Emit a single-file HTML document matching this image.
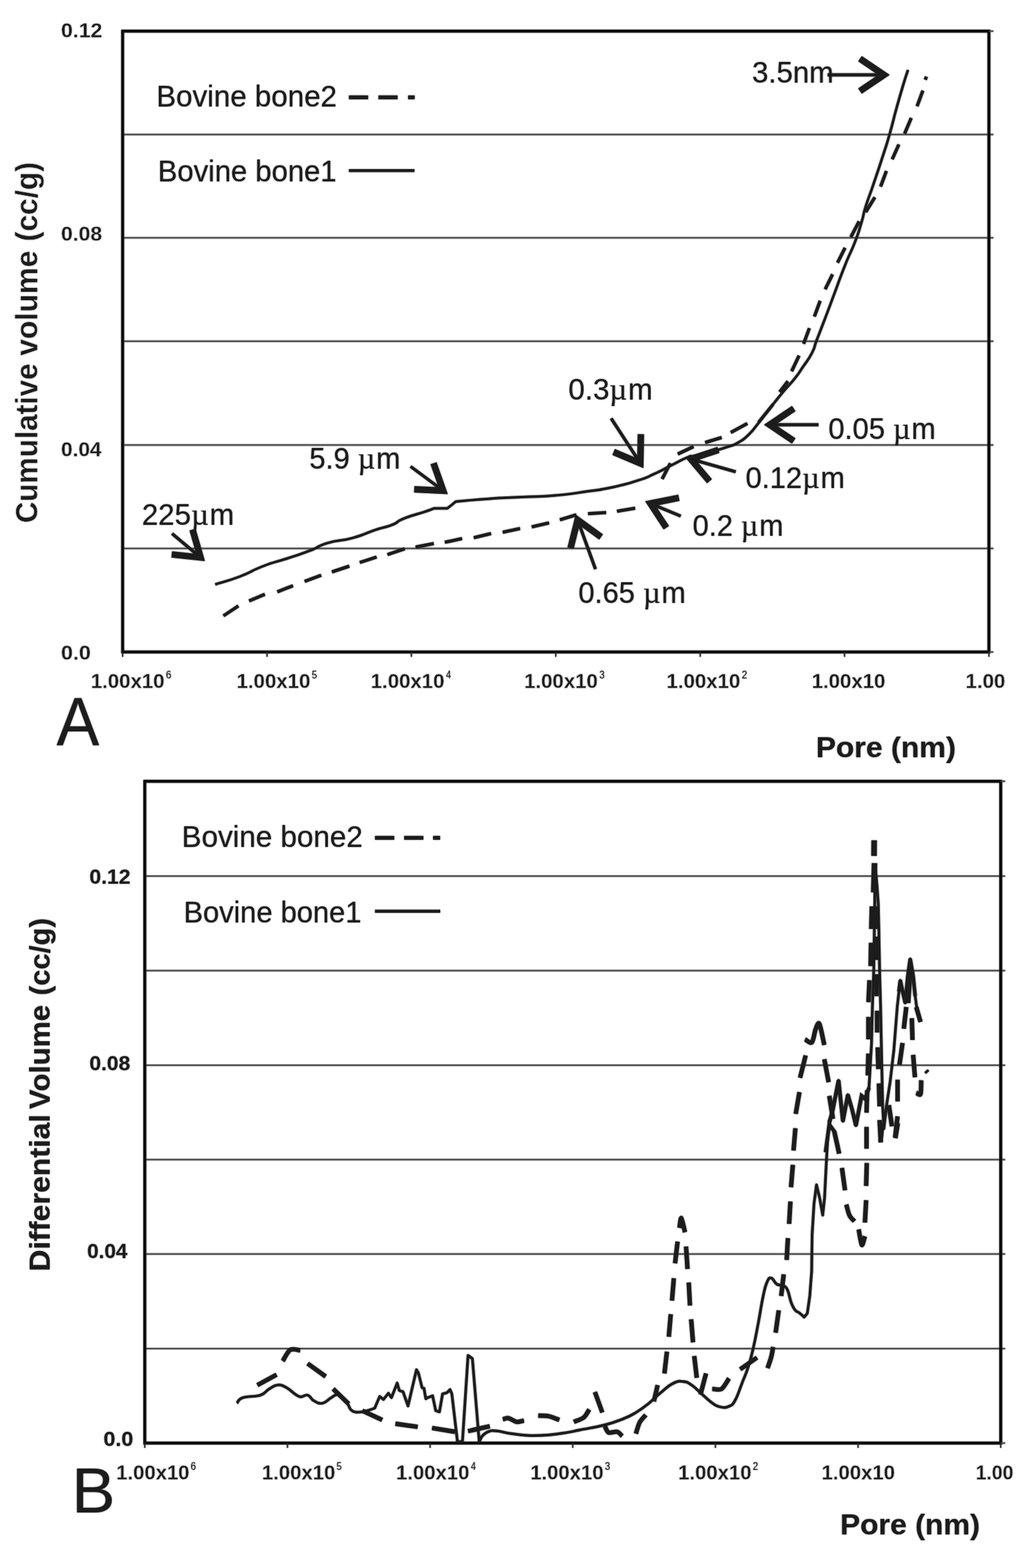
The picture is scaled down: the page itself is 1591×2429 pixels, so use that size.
<!DOCTYPE html>
<html lang="en"><head><meta charset="utf-8"><title>Pore size distribution of bovine bone</title>
<style>
html,body{margin:0;padding:0;background:#fff;}
body{width:1591px;height:2429px;overflow:hidden;}
svg{display:block;}
</style></head><body>
<svg width="1591" height="2429" viewBox="0 0 1591 2429">
<defs><filter id="soft" x="0" y="0" width="1591" height="2429" filterUnits="userSpaceOnUse" color-interpolation-filters="sRGB"><feGaussianBlur in="SourceGraphic" stdDeviation="0.85" result="b"/><feComponentTransfer in="b" result="h"><feFuncA type="linear" slope="0.7"/></feComponentTransfer><feMerge><feMergeNode in="h"/><feMergeNode in="SourceGraphic"/></feMerge></filter></defs>
<rect width="1591" height="2429" fill="#fff"/>
<g filter="url(#soft)">
<line x1="190" y1="208.3" x2="1539" y2="208.3" stroke="#474747" stroke-width="2.2" stroke-linecap="butt"/>
<line x1="190" y1="368.4" x2="1539" y2="368.4" stroke="#474747" stroke-width="2.2" stroke-linecap="butt"/>
<line x1="190" y1="528.6" x2="1539" y2="528.6" stroke="#474747" stroke-width="2.2" stroke-linecap="butt"/>
<line x1="190" y1="689.3" x2="1539" y2="689.3" stroke="#474747" stroke-width="2.2" stroke-linecap="butt"/>
<line x1="190" y1="849.6" x2="1539" y2="849.6" stroke="#474747" stroke-width="2.2" stroke-linecap="butt"/>
<rect x="190" y="48.2" width="1342" height="961.8" fill="none" stroke="#0c0c0c" stroke-width="4.5"/>
<line x1="1532" y1="48.2" x2="1539" y2="48.2" stroke="#474747" stroke-width="2.2" stroke-linecap="butt"/>
<line x1="1532" y1="1010" x2="1539" y2="1010" stroke="#474747" stroke-width="2.2" stroke-linecap="butt"/>
<line x1="190" y1="1010" x2="190" y2="1017.5" stroke="#2a2a2a" stroke-width="2.0" stroke-linecap="butt"/>
<line x1="413.7" y1="1010" x2="413.7" y2="1017.5" stroke="#2a2a2a" stroke-width="2.0" stroke-linecap="butt"/>
<line x1="637.3" y1="1010" x2="637.3" y2="1017.5" stroke="#2a2a2a" stroke-width="2.0" stroke-linecap="butt"/>
<line x1="861" y1="1010" x2="861" y2="1017.5" stroke="#2a2a2a" stroke-width="2.0" stroke-linecap="butt"/>
<line x1="1084.7" y1="1010" x2="1084.7" y2="1017.5" stroke="#2a2a2a" stroke-width="2.0" stroke-linecap="butt"/>
<line x1="1308.3" y1="1010" x2="1308.3" y2="1017.5" stroke="#2a2a2a" stroke-width="2.0" stroke-linecap="butt"/>
<line x1="1532" y1="1010" x2="1532" y2="1017.5" stroke="#2a2a2a" stroke-width="2.0" stroke-linecap="butt"/>
<text transform="translate(94.5 58) scale(1.0410 1.0000)" font-family="'Liberation Sans', sans-serif" font-size="31.6" text-anchor="start" fill="#1c1c1c" font-weight="bold" stroke="#fff" stroke-width="0.35">0.12</text>
<text transform="translate(94.5 373.3) scale(1.0354 1.0000)" font-family="'Liberation Sans', sans-serif" font-size="31.6" text-anchor="start" fill="#1c1c1c" font-weight="bold" stroke="#fff" stroke-width="0.35">0.08</text>
<text transform="translate(94.5 706.7) scale(1.0218 1.0000)" font-family="'Liberation Sans', sans-serif" font-size="31.6" text-anchor="start" fill="#1c1c1c" font-weight="bold" stroke="#fff" stroke-width="0.35">0.04</text>
<text transform="translate(94.5 1022.3) scale(1.0496 1.0000)" font-family="'Liberation Sans', sans-serif" font-size="31.6" text-anchor="start" fill="#1c1c1c" font-weight="bold" stroke="#fff" stroke-width="0.35">0.0</text>
<text transform="translate(140.7 1066.2)" font-family="'Liberation Sans', sans-serif" font-size="31.6" text-anchor="start" fill="#1c1c1c" font-weight="bold" stroke="#fff" stroke-width="0.35">1.00x10</text>
<text transform="translate(257 1050.8) scale(0.8903 1.0000)" font-family="'Liberation Sans', sans-serif" font-size="17" text-anchor="start" fill="#1c1c1c">6</text>
<text transform="translate(366.5 1066.2)" font-family="'Liberation Sans', sans-serif" font-size="31.6" text-anchor="start" fill="#1c1c1c" font-weight="bold" stroke="#fff" stroke-width="0.35">1.00x10</text>
<text transform="translate(483 1050.8) scale(0.8669 1.0000)" font-family="'Liberation Sans', sans-serif" font-size="17" text-anchor="start" fill="#1c1c1c">5</text>
<text transform="translate(574.3 1066.2)" font-family="'Liberation Sans', sans-serif" font-size="31.6" text-anchor="start" fill="#1c1c1c" font-weight="bold" stroke="#fff" stroke-width="0.35">1.00x10</text>
<text transform="translate(691.1 1050.8) scale(0.8154 1.0000)" font-family="'Liberation Sans', sans-serif" font-size="17" text-anchor="start" fill="#1c1c1c">4</text>
<text transform="translate(811.9 1066.2)" font-family="'Liberation Sans', sans-serif" font-size="31.6" text-anchor="start" fill="#1c1c1c" font-weight="bold" stroke="#fff" stroke-width="0.35">1.00x10</text>
<text transform="translate(928.4 1050.8) scale(0.8669 1.0000)" font-family="'Liberation Sans', sans-serif" font-size="17" text-anchor="start" fill="#1c1c1c">3</text>
<text transform="translate(1032.6 1066.2)" font-family="'Liberation Sans', sans-serif" font-size="31.6" text-anchor="start" fill="#1c1c1c" font-weight="bold" stroke="#fff" stroke-width="0.35">1.00x10</text>
<text transform="translate(1148.9 1050.8) scale(0.9050 1.0000)" font-family="'Liberation Sans', sans-serif" font-size="17" text-anchor="start" fill="#1c1c1c">2</text>
<text transform="translate(1257.4 1066.2)" font-family="'Liberation Sans', sans-serif" font-size="31.6" text-anchor="start" fill="#1c1c1c" font-weight="bold" stroke="#fff" stroke-width="0.35">1.00x10</text>
<text transform="translate(1495.8 1066.2) scale(1.0022 1.0000)" font-family="'Liberation Sans', sans-serif" font-size="31.6" text-anchor="start" fill="#1c1c1c" font-weight="bold" stroke="#fff" stroke-width="0.35">1.00</text>
<text transform="translate(1263.9 1173) scale(1.0335 1.0000)" font-family="'Liberation Sans', sans-serif" font-size="45" text-anchor="start" fill="#1c1c1c" font-weight="bold">Pore (nm)</text>
<text transform="translate(87.5 1154) scale(0.9849 1.0450)" font-family="'Liberation Sans', sans-serif" font-size="101" text-anchor="start" fill="#1c1c1c">A</text>
<text transform="translate(58.3 810.3) rotate(-90) scale(1.0199 1.0500)" font-family="'Liberation Sans', sans-serif" font-size="45" text-anchor="start" fill="#1c1c1c" font-weight="bold" stroke="#fff" stroke-width="0.45">Cumulative</text>
<text transform="translate(58.3 551.3) rotate(-90) scale(1.0362 1.0500)" font-family="'Liberation Sans', sans-serif" font-size="45" text-anchor="start" fill="#1c1c1c" font-weight="bold" stroke="#fff" stroke-width="0.45">volume</text>
<text transform="translate(58.3 373.9) rotate(-90) scale(1.0252 1.0500)" font-family="'Liberation Sans', sans-serif" font-size="45" text-anchor="start" fill="#1c1c1c" font-weight="bold" stroke="#fff" stroke-width="0.45">(cc/g)</text>
<text transform="translate(242.2 165.3) scale(0.9949 1.0000)" font-family="'Liberation Sans', sans-serif" font-size="46" text-anchor="start" fill="#1c1c1c">Bovine bone2</text>
<line x1="540.5" y1="150.8" x2="570.3" y2="150.8" stroke="#1c1c1c" stroke-width="6" stroke-linecap="butt"/>
<line x1="586.2" y1="150.8" x2="616" y2="150.8" stroke="#1c1c1c" stroke-width="6" stroke-linecap="butt"/>
<line x1="632.2" y1="150.8" x2="642.4" y2="150.8" stroke="#1c1c1c" stroke-width="6" stroke-linecap="butt"/>
<text transform="translate(244.6 280.6) scale(0.9843 1.0000)" font-family="'Liberation Sans', sans-serif" font-size="46" text-anchor="start" fill="#1c1c1c">Bovine bone1</text>
<line x1="540.5" y1="264.3" x2="642.1" y2="264.3" stroke="#1c1c1c" stroke-width="4.6" stroke-linecap="butt"/>
<path d="M333.4 905.3C344.9 901.6 349.5 901.5 371.8 893C394.1 884.5 386.2 885.2 407.8 877C429.4 868.8 422.2 872.6 443.7 865.5C465.2 858.4 460.4 860.5 479.6 853.2C498.8 845.9 487.8 847 507.8 841.1C527.8 835.2 524 839.5 546.3 833.4C568.6 827.2 563.7 826.8 582.2 820.6C600.7 814.5 594.8 818.1 607.9 812.9C621 807.6 610.5 809.2 625.9 803.1C641.3 797 645.4 797.1 659.2 792.4C673 787.7 672 787.5 672 787.5C672 787.5 693 787.5 693 787.5C693 787.5 700 782 700 782C700 782 706 777 706 777C706 777 726.3 774.8 757 772.7C787.7 770.6 777.5 771.7 808.3 770.1C839.1 768.5 828.8 770.2 859.6 767.5C890.4 764.8 884 764.9 910.9 761.1C937.8 757.3 926.3 759.7 949.4 754.7C972.5 749.7 968.7 750.5 987.9 744.4C1007.1 738.2 998.1 741.1 1013.5 734.2C1028.9 727.3 1023.8 729 1039.2 721.3C1054.6 713.6 1053.6 713.1 1064.9 708.5C1076.2 703.9 1065.7 708.7 1077 706C1088.3 703.3 1087.2 703.8 1102.6 699.6C1118 695.4 1116 696.1 1128.3 691.9C1140.6 687.7 1134.5 690.9 1143.7 685.5C1152.9 680.1 1149.9 682.9 1159.1 674C1168.3 665.1 1164.5 668.3 1174.5 656C1184.5 643.7 1180.9 647.5 1192.4 632.9C1204 618.3 1201.5 621.1 1213 607.2C1224.5 593.3 1221.7 598.2 1230.9 586.7C1240.1 575.2 1235.6 580.7 1243.7 568.7C1251.8 556.7 1251.3 559.5 1257.8 546.8C1264.3 534.1 1259.3 542.4 1265.5 526.3C1271.7 510.2 1269.8 515.3 1278.3 493C1286.8 470.7 1284.5 476.5 1293.7 451.9C1302.9 427.3 1299.9 434 1309.1 410.9C1318.3 387.8 1316.8 394.9 1324.5 374.9C1332.2 354.9 1329.7 360.6 1334.7 344.1C1339.7 327.6 1335.7 337.2 1341.1 320C1346.5 302.8 1344.6 310.5 1352.7 286.6C1360.8 262.7 1360.4 264.3 1368.1 240.4C1375.8 216.5 1372.2 228.6 1378.4 207C1384.6 185.4 1382.4 190.8 1388.6 168.5C1394.8 146.2 1393.5 150.7 1398.9 132.6C1404.3 114.5 1404.3 115.6 1406.6 108.3" fill="none" stroke="#1c1c1c" stroke-width="4.0" stroke-linecap="butt" stroke-linejoin="round"/>
<polyline points="346.2,954 369.3,938.6" fill="none" stroke="#1c1c1c" stroke-width="5.1" stroke-linecap="butt" stroke-linejoin="round"/>
<polyline points="385.9,930.9 410.3,920.7" fill="none" stroke="#1c1c1c" stroke-width="5.1" stroke-linecap="butt" stroke-linejoin="round"/>
<polyline points="429.6,916.8 453.9,907.3" fill="none" stroke="#1c1c1c" stroke-width="5.1" stroke-linecap="butt" stroke-linejoin="round"/>
<polyline points="471.9,900.6 497.6,891.1" fill="none" stroke="#1c1c1c" stroke-width="5.1" stroke-linecap="butt" stroke-linejoin="round"/>
<polyline points="514.2,886 541.2,877" fill="none" stroke="#1c1c1c" stroke-width="5.1" stroke-linecap="butt" stroke-linejoin="round"/>
<polyline points="557.3,871.4 583.5,862.9" fill="none" stroke="#1c1c1c" stroke-width="5.1" stroke-linecap="butt" stroke-linejoin="round"/>
<polyline points="600.2,859.1 627.1,850.1" fill="none" stroke="#1c1c1c" stroke-width="5.1" stroke-linecap="butt" stroke-linejoin="round"/>
<polyline points="643.8,847.5 672,841.9" fill="none" stroke="#1c1c1c" stroke-width="5.1" stroke-linecap="butt" stroke-linejoin="round"/>
<polyline points="689,840.1 715.9,834.2" fill="none" stroke="#1c1c1c" stroke-width="5.1" stroke-linecap="butt" stroke-linejoin="round"/>
<polyline points="733.9,833 760.8,826.5" fill="none" stroke="#1c1c1c" stroke-width="5.1" stroke-linecap="butt" stroke-linejoin="round"/>
<polyline points="778.8,824.5 805.7,818.8" fill="none" stroke="#1c1c1c" stroke-width="5.1" stroke-linecap="butt" stroke-linejoin="round"/>
<polyline points="823.7,816.3 850.6,809.9" fill="none" stroke="#1c1c1c" stroke-width="5.1" stroke-linecap="butt" stroke-linejoin="round"/>
<polyline points="867.3,805.2 893,797.5" fill="none" stroke="#1c1c1c" stroke-width="5.1" stroke-linecap="butt" stroke-linejoin="round"/>
<polyline points="910.9,795.8 939.1,794" fill="none" stroke="#1c1c1c" stroke-width="5.1" stroke-linecap="butt" stroke-linejoin="round"/>
<polyline points="955.8,791.9 984,787.3" fill="none" stroke="#1c1c1c" stroke-width="5.1" stroke-linecap="butt" stroke-linejoin="round"/>
<polyline points="1025.7,742 1038.5,717.6" fill="none" stroke="#1c1c1c" stroke-width="5.1" stroke-linecap="butt" stroke-linejoin="round"/>
<polyline points="1050,703.4 1074.4,691.9" fill="none" stroke="#1c1c1c" stroke-width="5.1" stroke-linecap="butt" stroke-linejoin="round"/>
<polyline points="1092.4,685.5 1118,677.8" fill="none" stroke="#1c1c1c" stroke-width="5.1" stroke-linecap="butt" stroke-linejoin="round"/>
<polyline points="1132.1,670.1 1157.8,656" fill="none" stroke="#1c1c1c" stroke-width="5.1" stroke-linecap="butt" stroke-linejoin="round"/>
<polyline points="1175,654.5 1197.5,626.5" fill="none" stroke="#1c1c1c" stroke-width="5.1" stroke-linecap="butt" stroke-linejoin="round"/>
<polyline points="1207.8,607.2 1220.6,590.6" fill="none" stroke="#1c1c1c" stroke-width="5.1" stroke-linecap="butt" stroke-linejoin="round"/>
<polyline points="1226.4,575.1 1237.9,550.8" fill="none" stroke="#1c1c1c" stroke-width="5.1" stroke-linecap="butt" stroke-linejoin="round"/>
<polyline points="1244.9,532.7 1253.9,508.4" fill="none" stroke="#1c1c1c" stroke-width="5.1" stroke-linecap="butt" stroke-linejoin="round"/>
<polyline points="1261.6,490.4 1270.6,466" fill="none" stroke="#1c1c1c" stroke-width="5.1" stroke-linecap="butt" stroke-linejoin="round"/>
<polyline points="1278.3,448.1 1289.8,425" fill="none" stroke="#1c1c1c" stroke-width="5.1" stroke-linecap="butt" stroke-linejoin="round"/>
<polyline points="1297.5,407 1309.1,383.9" fill="none" stroke="#1c1c1c" stroke-width="5.1" stroke-linecap="butt" stroke-linejoin="round"/>
<polyline points="1318.1,367.2 1330.9,342.9" fill="none" stroke="#1c1c1c" stroke-width="5.1" stroke-linecap="butt" stroke-linejoin="round"/>
<polyline points="1341.1,328.7 1355.3,305.7" fill="none" stroke="#1c1c1c" stroke-width="5.1" stroke-linecap="butt" stroke-linejoin="round"/>
<polyline points="1364.2,289 1373.2,264.8" fill="none" stroke="#1c1c1c" stroke-width="5.1" stroke-linecap="butt" stroke-linejoin="round"/>
<polyline points="1382.2,246.8 1392.5,223.7" fill="none" stroke="#1c1c1c" stroke-width="5.1" stroke-linecap="butt" stroke-linejoin="round"/>
<polyline points="1401.4,207 1411.7,182.7" fill="none" stroke="#1c1c1c" stroke-width="5.1" stroke-linecap="butt" stroke-linejoin="round"/>
<polyline points="1420.7,164.7 1429.7,140.3" fill="none" stroke="#1c1c1c" stroke-width="5.1" stroke-linecap="butt" stroke-linejoin="round"/>
<polyline points="1433.3,123.5 1435.3,118.7" fill="none" stroke="#1c1c1c" stroke-width="5.1" stroke-linecap="butt" stroke-linejoin="round"/>
<line x1="1282" y1="116" x2="1369.5" y2="116" stroke="#1c1c1c" stroke-width="4.9" stroke-linecap="butt"/>
<polyline points="1332.2,90.8 1369.5,116 1332.2,141.2" fill="none" stroke="#1c1c1c" stroke-width="10" stroke-linejoin="miter" stroke-miterlimit="10"/>
<line x1="266.6" y1="826.6" x2="310.7" y2="863.6" stroke="#1c1c1c" stroke-width="4.9" stroke-linecap="butt"/>
<polyline points="298.3,820.3 310.7,863.6 266,858.9" fill="none" stroke="#1c1c1c" stroke-width="10" stroke-linejoin="miter" stroke-miterlimit="10"/>
<line x1="636.1" y1="722.6" x2="686.6" y2="760.1" stroke="#1c1c1c" stroke-width="4.9" stroke-linecap="butt"/>
<polyline points="671.6,717.6 686.6,760.1 641.7,758.1" fill="none" stroke="#1c1c1c" stroke-width="10" stroke-linejoin="miter" stroke-miterlimit="10"/>
<line x1="946.8" y1="648.2" x2="992" y2="717.7" stroke="#1c1c1c" stroke-width="4.9" stroke-linecap="butt"/>
<polyline points="992.8,672.7 992,717.7 950.6,700.2" fill="none" stroke="#1c1c1c" stroke-width="10" stroke-linejoin="miter" stroke-miterlimit="10"/>
<line x1="922.5" y1="881.7" x2="894.8" y2="805.4" stroke="#1c1c1c" stroke-width="4.9" stroke-linecap="butt"/>
<polyline points="883.9,849.1 894.8,805.4 931.2,831.9" fill="none" stroke="#1c1c1c" stroke-width="10" stroke-linejoin="miter" stroke-miterlimit="10"/>
<line x1="1054.6" y1="799.6" x2="1007.6" y2="780" stroke="#1c1c1c" stroke-width="4.9" stroke-linecap="butt"/>
<polyline points="1032.3,817.6 1007.6,780 1051.8,771.1" fill="none" stroke="#1c1c1c" stroke-width="10" stroke-linejoin="miter" stroke-miterlimit="10"/>
<line x1="1139.8" y1="730.9" x2="1070.2" y2="711.1" stroke="#1c1c1c" stroke-width="4.9" stroke-linecap="butt"/>
<polyline points="1099.2,745.5 1070.2,711.1 1113,697.1" fill="none" stroke="#1c1c1c" stroke-width="10" stroke-linejoin="miter" stroke-miterlimit="10"/>
<line x1="1268.1" y1="658" x2="1192.4" y2="658" stroke="#1c1c1c" stroke-width="4.9" stroke-linecap="butt"/>
<polyline points="1229.7,683.2 1192.4,658 1229.7,632.8" fill="none" stroke="#1c1c1c" stroke-width="10" stroke-linejoin="miter" stroke-miterlimit="10"/>
<text transform="translate(1165 128.3) scale(0.9898 1)" font-family="'Liberation Sans', sans-serif" font-size="46" fill="#1c1c1c">3.5nm</text>
<text transform="translate(219.7 812.7) scale(0.9927 1)" font-family="'Liberation Sans', sans-serif" font-size="46" fill="#1c1c1c">225<tspan font-family="'Liberation Serif', serif" font-size="48" letter-spacing="1.5">µ</tspan>m</text>
<text transform="translate(479.2 726) scale(0.9781 1)" font-family="'Liberation Sans', sans-serif" font-size="46" fill="#1c1c1c">5.9 <tspan font-family="'Liberation Serif', serif" font-size="48" letter-spacing="1.5">µ</tspan>m</text>
<text transform="translate(880.6 618.5) scale(0.9931 1)" font-family="'Liberation Sans', sans-serif" font-size="46" fill="#1c1c1c">0.3<tspan font-family="'Liberation Serif', serif" font-size="48" letter-spacing="1.5">µ</tspan>m</text>
<text transform="translate(1283.3 679.5) scale(0.9798 1)" font-family="'Liberation Sans', sans-serif" font-size="46" fill="#1c1c1c">0.05 <tspan font-family="'Liberation Serif', serif" font-size="48" letter-spacing="1.5">µ</tspan>m</text>
<text transform="translate(1155.1 755.5) scale(0.9780 1)" font-family="'Liberation Sans', sans-serif" font-size="46" fill="#1c1c1c">0.12<tspan font-family="'Liberation Serif', serif" font-size="48" letter-spacing="1.5">µ</tspan>m</text>
<text transform="translate(1073 829.9) scale(0.9753 1)" font-family="'Liberation Sans', sans-serif" font-size="46" fill="#1c1c1c">0.2 <tspan font-family="'Liberation Serif', serif" font-size="48" letter-spacing="1.5">µ</tspan>m</text>
<text transform="translate(895.9 934) scale(0.9804 1)" font-family="'Liberation Sans', sans-serif" font-size="46" fill="#1c1c1c">0.65 <tspan font-family="'Liberation Serif', serif" font-size="48" letter-spacing="1.5">µ</tspan>m</text>
<line x1="224.3" y1="1357.2" x2="1557.3" y2="1357.2" stroke="#474747" stroke-width="2.3" stroke-linecap="butt"/>
<line x1="224.3" y1="1503.7" x2="1557.3" y2="1503.7" stroke="#474747" stroke-width="2.3" stroke-linecap="butt"/>
<line x1="224.3" y1="1650.2" x2="1557.3" y2="1650.2" stroke="#474747" stroke-width="2.3" stroke-linecap="butt"/>
<line x1="224.3" y1="1796.4" x2="1557.3" y2="1796.4" stroke="#474747" stroke-width="2.3" stroke-linecap="butt"/>
<line x1="224.3" y1="1942.6" x2="1557.3" y2="1942.6" stroke="#474747" stroke-width="2.3" stroke-linecap="butt"/>
<line x1="224.3" y1="2089.1" x2="1557.3" y2="2089.1" stroke="#474747" stroke-width="2.3" stroke-linecap="butt"/>
<rect x="224.3" y="1210.3" width="1326" height="1025.2" fill="none" stroke="#0c0c0c" stroke-width="4.5"/>
<line x1="1550.3" y1="1210.3" x2="1557.3" y2="1210.3" stroke="#474747" stroke-width="2.2" stroke-linecap="butt"/>
<line x1="1550.3" y1="2235.5" x2="1557.3" y2="2235.5" stroke="#474747" stroke-width="2.2" stroke-linecap="butt"/>
<line x1="224.3" y1="2235.5" x2="224.3" y2="2243" stroke="#2a2a2a" stroke-width="2.0" stroke-linecap="butt"/>
<line x1="445.3" y1="2235.5" x2="445.3" y2="2243" stroke="#2a2a2a" stroke-width="2.0" stroke-linecap="butt"/>
<line x1="666.3" y1="2235.5" x2="666.3" y2="2243" stroke="#2a2a2a" stroke-width="2.0" stroke-linecap="butt"/>
<line x1="887.3" y1="2235.5" x2="887.3" y2="2243" stroke="#2a2a2a" stroke-width="2.0" stroke-linecap="butt"/>
<line x1="1108.3" y1="2235.5" x2="1108.3" y2="2243" stroke="#2a2a2a" stroke-width="2.0" stroke-linecap="butt"/>
<line x1="1329.3" y1="2235.5" x2="1329.3" y2="2243" stroke="#2a2a2a" stroke-width="2.0" stroke-linecap="butt"/>
<line x1="1550.3" y1="2235.5" x2="1550.3" y2="2243" stroke="#2a2a2a" stroke-width="2.0" stroke-linecap="butt"/>
<text transform="translate(138.5 1369.4) scale(1.0351 1.0000)" font-family="'Liberation Sans', sans-serif" font-size="31.6" text-anchor="start" fill="#1c1c1c" font-weight="bold">0.12</text>
<text transform="translate(138.5 1657.7) scale(1.0295 1.0000)" font-family="'Liberation Sans', sans-serif" font-size="31.6" text-anchor="start" fill="#1c1c1c" font-weight="bold">0.08</text>
<text transform="translate(135 1949) scale(1.0160 1.0000)" font-family="'Liberation Sans', sans-serif" font-size="31.6" text-anchor="start" fill="#1c1c1c" font-weight="bold">0.04</text>
<text transform="translate(160.3 2240) scale(1.0532 1.0000)" font-family="'Liberation Sans', sans-serif" font-size="31.6" text-anchor="start" fill="#1c1c1c" font-weight="bold">0.0</text>
<text transform="translate(180 2292) scale(0.9949 1.0000)" font-family="'Liberation Sans', sans-serif" font-size="31.6" text-anchor="start" fill="#1c1c1c" font-weight="bold" stroke="#fff" stroke-width="0.35">1.00x10</text>
<text transform="translate(295.3 2276.8) scale(0.8903 1.0000)" font-family="'Liberation Sans', sans-serif" font-size="17" text-anchor="start" fill="#1c1c1c">6</text>
<text transform="translate(405.8 2292) scale(0.9949 1.0000)" font-family="'Liberation Sans', sans-serif" font-size="31.6" text-anchor="start" fill="#1c1c1c" font-weight="bold" stroke="#fff" stroke-width="0.35">1.00x10</text>
<text transform="translate(521.3 2276.8) scale(0.8669 1.0000)" font-family="'Liberation Sans', sans-serif" font-size="17" text-anchor="start" fill="#1c1c1c">5</text>
<text transform="translate(613.6 2292) scale(0.9949 1.0000)" font-family="'Liberation Sans', sans-serif" font-size="31.6" text-anchor="start" fill="#1c1c1c" font-weight="bold" stroke="#fff" stroke-width="0.35">1.00x10</text>
<text transform="translate(729.4 2276.8) scale(0.8154 1.0000)" font-family="'Liberation Sans', sans-serif" font-size="17" text-anchor="start" fill="#1c1c1c">4</text>
<text transform="translate(821.4 2292) scale(0.9949 1.0000)" font-family="'Liberation Sans', sans-serif" font-size="31.6" text-anchor="start" fill="#1c1c1c" font-weight="bold" stroke="#fff" stroke-width="0.35">1.00x10</text>
<text transform="translate(936.9 2276.8) scale(0.8669 1.0000)" font-family="'Liberation Sans', sans-serif" font-size="17" text-anchor="start" fill="#1c1c1c">3</text>
<text transform="translate(1050.6 2292) scale(0.9949 1.0000)" font-family="'Liberation Sans', sans-serif" font-size="31.6" text-anchor="start" fill="#1c1c1c" font-weight="bold" stroke="#fff" stroke-width="0.35">1.00x10</text>
<text transform="translate(1165.9 2276.8) scale(0.9050 1.0000)" font-family="'Liberation Sans', sans-serif" font-size="17" text-anchor="start" fill="#1c1c1c">2</text>
<text transform="translate(1272.8 2292) scale(0.9949 1.0000)" font-family="'Liberation Sans', sans-serif" font-size="31.6" text-anchor="start" fill="#1c1c1c" font-weight="bold" stroke="#fff" stroke-width="0.35">1.00x10</text>
<text transform="translate(1511.4 2292) scale(0.9507 1.0000)" font-family="'Liberation Sans', sans-serif" font-size="31.6" text-anchor="start" fill="#1c1c1c" font-weight="bold" stroke="#fff" stroke-width="0.35">1.00</text>
<text transform="translate(1301.5 2377) scale(1.0325 1.0000)" font-family="'Liberation Sans', sans-serif" font-size="45" text-anchor="start" fill="#1c1c1c" font-weight="bold">Pore (nm)</text>
<text transform="translate(111.1 2343) scale(1.0329 1.0000)" font-family="'Liberation Sans', sans-serif" font-size="98" text-anchor="start" fill="#1c1c1c">B</text>
<text transform="translate(77.3 1969.5) rotate(-90) scale(1.0474 1.0000)" font-family="'Liberation Sans', sans-serif" font-size="44.5" text-anchor="start" fill="#1c1c1c" font-weight="bold">Differential</text>
<text transform="translate(77.3 1717.9) rotate(-90) scale(1.0248 1.0000)" font-family="'Liberation Sans', sans-serif" font-size="44.5" text-anchor="start" fill="#1c1c1c" font-weight="bold">Volume</text>
<text transform="translate(77.3 1541.9) rotate(-90) scale(1.0100 1.0000)" font-family="'Liberation Sans', sans-serif" font-size="44.5" text-anchor="start" fill="#1c1c1c" font-weight="bold">(cc/g)</text>
<text transform="translate(281.6 1312) scale(0.9967 1.0000)" font-family="'Liberation Sans', sans-serif" font-size="46" text-anchor="start" fill="#1c1c1c">Bovine bone2</text>
<line x1="580.9" y1="1297.9" x2="610.7" y2="1297.9" stroke="#1c1c1c" stroke-width="6" stroke-linecap="butt"/>
<line x1="626.1" y1="1297.9" x2="655.9" y2="1297.9" stroke="#1c1c1c" stroke-width="6" stroke-linecap="butt"/>
<line x1="670.9" y1="1297.9" x2="681.8" y2="1297.9" stroke="#1c1c1c" stroke-width="6" stroke-linecap="butt"/>
<text transform="translate(284.5 1428.5) scale(0.9793 1.0000)" font-family="'Liberation Sans', sans-serif" font-size="46" text-anchor="start" fill="#1c1c1c">Bovine bone1</text>
<line x1="580.9" y1="1411.6" x2="682" y2="1411.6" stroke="#1c1c1c" stroke-width="4.6" stroke-linecap="butt"/>
<path d="M366.9 2173.7C369.2 2171.7 368.1 2168 376.6 2165.1C385.1 2162.2 394.1 2164.3 403.5 2161.2C412.9 2158 410.7 2155.3 417 2151.6C423.3 2147.9 424.1 2145.9 430.4 2145.5C436.7 2145.1 436.2 2145.6 443.9 2149.7C451.6 2153.8 455.6 2160.5 463.2 2163.2C470.8 2165.9 471.2 2159.6 476.6 2161.2C482 2162.8 480.8 2167 486.2 2169.9C491.6 2172.8 493.4 2174.8 499.7 2173.7C506 2172.6 507.4 2168.2 513.2 2165.1C519 2162 519.3 2158.9 524.7 2160.3C530.1 2161.7 530.4 2164.6 536.3 2170.9C542.2 2177.2 539.5 2184.8 549.8 2187.2C560.1 2189.6 580.5 2181.4 580.5 2181.4C580.5 2181.4 588.2 2163.2 588.2 2163.2C588.2 2163.2 594 2168 594 2168C594 2168 601.7 2158.3 601.7 2158.3C601.7 2158.3 606.5 2165.1 606.5 2165.1C606.5 2165.1 615.3 2142.5 615.3 2142.5C615.3 2142.5 618.6 2154 618.6 2154C618.6 2154 624.4 2156 624.4 2156C624.4 2156 632.1 2178 632.1 2178C632.1 2178 645.2 2121.8 645.2 2121.8C645.2 2121.8 648.1 2126.6 648.1 2126.6C648.1 2126.6 653.9 2149.7 653.9 2149.7C653.9 2149.7 656.8 2150.6 656.8 2150.6C656.8 2150.6 659.7 2167 659.7 2167C659.7 2167 662.5 2165.1 662.5 2165.1C662.5 2165.1 670.2 2162.2 670.2 2162.2C670.2 2162.2 675 2185.3 675 2185.3C675 2185.3 680.8 2187.2 680.8 2187.2C680.8 2187.2 685.6 2159.3 685.6 2159.3C685.6 2159.3 692.4 2157.4 692.4 2157.4C692.4 2157.4 697.2 2152.6 697.2 2152.6C697.2 2152.6 700 2159.3 700 2159.3C700 2159.3 708.7 2233.4 708.7 2233.4C708.7 2233.4 716.4 2233.4 716.4 2233.4C716.4 2233.4 725.1 2099.7 725.1 2099.7C725.1 2099.7 731.8 2104.5 731.8 2104.5C731.8 2104.5 742.4 2233.4 742.4 2233.4C742.4 2233.4 746.2 2225.7 746.2 2225.7C746.2 2225.7 750.5 2220.1 755.9 2218C761.3 2215.9 760.8 2215.9 769.3 2216.6C777.8 2217.3 780.3 2219.2 792.4 2220.9C804.5 2222.6 807.8 2223.4 821.3 2223.8C834.8 2224.2 836.7 2223.9 850.2 2222.8C863.7 2221.7 867.7 2220.8 879 2219C890.3 2217.2 885 2217.8 898.5 2215.1C912 2212.4 921.3 2211.4 937 2207.4C952.7 2203.4 954.6 2202.3 965.8 2197.8C977 2193.3 976.1 2193.6 985.1 2188.2C994.1 2182.8 995.3 2181.9 1004.3 2174.7C1013.3 2167.5 1014.6 2164.8 1023.6 2157.4C1032.6 2150 1034.7 2147 1042.8 2143C1050.9 2139 1051.5 2139.4 1058.2 2140.1C1064.9 2140.8 1065 2141.3 1071.7 2145.8C1078.4 2150.3 1079.9 2153 1087.1 2159.3C1094.3 2165.6 1095.8 2168.1 1102.5 2172.8C1109.2 2177.5 1109.6 2178.2 1115.9 2179.5C1122.2 2180.8 1124 2181 1129.4 2178.5C1134.8 2176 1134.3 2177.3 1139 2168.9C1143.7 2160.5 1144.9 2154.4 1149.6 2142.4C1154.3 2130.4 1155.2 2130 1159.2 2117.4C1163.2 2104.8 1163.3 2104.3 1166.9 2088.6C1170.5 2072.9 1171 2069 1174.6 2050.1C1178.2 2031.2 1179.1 2022.5 1182.3 2007.7C1185.5 1992.9 1185.2 1993.1 1188.1 1986.6C1191 1980.1 1191.2 1979.1 1194.8 1979.8C1198.4 1980.5 1199.2 1986.7 1203.5 1989.4C1207.8 1992.1 1209.3 1989.4 1213.1 1991.4C1216.9 1993.4 1217 1992 1219.9 1998.1C1222.8 2004.2 1222.9 2010.2 1225.6 2017.4C1228.3 2024.6 1228.5 2025.1 1231.4 2028.9C1234.3 2032.7 1234.7 2031 1238.1 2033.7C1241.5 2036.4 1245.8 2040.4 1245.8 2040.4C1245.8 2040.4 1250.6 2034.7 1250.6 2034.7C1250.6 2034.7 1254.5 2007.7 1254.5 2007.7C1254.5 2007.7 1257.4 1969.2 1257.4 1969.2C1257.4 1969.2 1258.1 1913.2 1258.1 1913.2C1258.1 1913.2 1261 1865.1 1261 1865.1C1261 1865.1 1264.9 1835.3 1264.9 1835.3C1264.9 1835.3 1269.7 1855.5 1269.7 1855.5C1269.7 1855.5 1274.5 1882.4 1274.5 1882.4C1274.5 1882.4 1277.4 1855.5 1277.4 1855.5C1277.4 1855.5 1280.3 1797.7 1280.3 1797.7C1280.3 1797.7 1283.2 1749.6 1283.2 1749.6C1283.2 1749.6 1290 1720 1290 1720C1290 1720 1299.1 1673.5 1299.1 1673.5C1299.1 1673.5 1305.8 1737 1305.8 1737C1305.8 1737 1313.5 1695.7 1313.5 1695.7C1313.5 1695.7 1320.3 1719.7 1320.3 1719.7C1320.3 1719.7 1326 1743.8 1326 1743.8C1326 1743.8 1334.7 1697.6 1334.7 1697.6C1334.7 1697.6 1340.5 1702.4 1340.5 1702.4C1340.5 1702.4 1346.2 1685.1 1346.2 1685.1C1346.2 1685.1 1350.1 1617.7 1350.1 1617.7C1350.1 1617.7 1351.5 1560 1351.5 1560C1351.5 1560 1353.7 1500 1353.7 1500C1353.7 1500 1354.5 1440 1354.5 1440C1354.5 1440 1355.2 1390 1355.2 1390C1355.2 1390 1355.9 1341 1355.9 1341C1355.9 1341 1358.6 1372 1358.6 1372C1358.6 1372 1360.6 1400 1360.6 1400C1360.6 1400 1361.6 1445 1361.6 1445C1361.6 1445 1362.6 1500 1362.6 1500C1362.6 1500 1364.2 1560 1364.2 1560C1364.2 1560 1365.8 1640 1365.8 1640C1365.8 1640 1367.4 1714 1367.4 1714C1367.4 1714 1369.3 1748.6 1369.3 1748.6C1369.3 1748.6 1373.2 1714 1373.2 1714C1373.2 1714 1379 1675.5 1379 1675.5C1379 1675.5 1384.7 1627.3 1384.7 1627.3C1384.7 1627.3 1390.1 1558.6 1390.1 1558.6C1390.1 1558.6 1394.7 1518.5 1394.7 1518.5C1394.7 1518.5 1398.6 1537 1398.6 1537C1398.6 1537 1402.4 1553.9 1402.4 1553.9C1402.4 1553.9 1406.3 1512.4 1406.3 1512.4C1406.3 1512.4 1410.1 1485.4 1410.1 1485.4C1410.1 1485.4 1414.7 1512.4 1414.7 1512.4C1414.7 1512.4 1417.8 1543.2 1417.8 1543.2C1417.8 1543.2 1420.9 1566.2 1420.9 1566.2C1420.9 1566.2 1425.5 1581.6 1425.5 1581.6" fill="none" stroke="#1c1c1c" stroke-width="4.2" stroke-linecap="butt" stroke-linejoin="round"/>
<polyline points="398.7,2145.8 428.5,2129.5" fill="none" stroke="#1c1c1c" stroke-width="6.9" stroke-linecap="butt" stroke-linejoin="round"/>
<path d="M438.1 2108.3C439.8 2105.7 445.6 2093.4 449.7 2091C453.8 2088.6 462.8 2091.8 465.1 2092" fill="none" stroke="#1c1c1c" stroke-width="6.9" stroke-linecap="butt" stroke-linejoin="round"/>
<polyline points="476.6,2112.2 504.5,2132.4" fill="none" stroke="#1c1c1c" stroke-width="6.9" stroke-linecap="butt" stroke-linejoin="round"/>
<polyline points="516.1,2151.6 540.1,2174.7" fill="none" stroke="#1c1c1c" stroke-width="6.9" stroke-linecap="butt" stroke-linejoin="round"/>
<polyline points="561.3,2185.3 592.1,2199.7" fill="none" stroke="#1c1c1c" stroke-width="6.9" stroke-linecap="butt" stroke-linejoin="round"/>
<polyline points="612.5,2205.5 647.1,2210.3" fill="none" stroke="#1c1c1c" stroke-width="6.9" stroke-linecap="butt" stroke-linejoin="round"/>
<polyline points="669.3,2212.2 704.9,2218" fill="none" stroke="#1c1c1c" stroke-width="6.9" stroke-linecap="butt" stroke-linejoin="round"/>
<polyline points="725.1,2217 758.8,2209.3" fill="none" stroke="#1c1c1c" stroke-width="6.9" stroke-linecap="butt" stroke-linejoin="round"/>
<path d="M779 2198.8C780.3 2198.5 784.4 2196.3 787.6 2196.9C790.8 2197.5 796.5 2202 800.1 2202.6C803.7 2203.2 810 2201 811.7 2200.7" fill="none" stroke="#1c1c1c" stroke-width="6.9" stroke-linecap="butt" stroke-linejoin="round"/>
<path d="M833.8 2193C836.3 2193.1 845.3 2192.9 850.2 2193.9C855.1 2194.9 864.1 2198.8 866.5 2199.7" fill="none" stroke="#1c1c1c" stroke-width="6.9" stroke-linecap="butt" stroke-linejoin="round"/>
<path d="M888.9 2202.6C891.2 2201.6 900.7 2198.8 904.3 2195.9C907.9 2193 911.6 2185.3 912.9 2183.4" fill="none" stroke="#1c1c1c" stroke-width="6.9" stroke-linecap="butt" stroke-linejoin="round"/>
<polyline points="921.6,2156.4 933.1,2188.2" fill="none" stroke="#1c1c1c" stroke-width="6.9" stroke-linecap="butt" stroke-linejoin="round"/>
<path d="M937 2209.3C937.9 2210.8 939.8 2217.7 942.7 2219C945.6 2220.3 953 2217.1 956.2 2218C959.4 2218.9 962.7 2223.7 963.9 2224.7" fill="none" stroke="#1c1c1c" stroke-width="6.9" stroke-linecap="butt" stroke-linejoin="round"/>
<path d="M985.1 2220.9C986 2218.3 988.6 2207.9 990.9 2203.6C993.2 2199.3 999.1 2193.7 1000.5 2192" fill="none" stroke="#1c1c1c" stroke-width="6.9" stroke-linecap="butt" stroke-linejoin="round"/>
<polyline points="1013,2170.9 1018.8,2145.8" fill="none" stroke="#1c1c1c" stroke-width="6.9" stroke-linecap="butt" stroke-linejoin="round"/>
<polyline points="1029.3,2127.6 1033.2,2093.9" fill="none" stroke="#1c1c1c" stroke-width="6.9" stroke-linecap="butt" stroke-linejoin="round"/>
<polyline points="1036.1,2070.8 1039.1,2035.9" fill="none" stroke="#1c1c1c" stroke-width="6.9" stroke-linecap="butt" stroke-linejoin="round"/>
<polyline points="1041,2014.7 1043.9,1980.1" fill="none" stroke="#1c1c1c" stroke-width="6.9" stroke-linecap="butt" stroke-linejoin="round"/>
<polyline points="1045.8,1957 1049.7,1923.3" fill="none" stroke="#1c1c1c" stroke-width="6.9" stroke-linecap="butt" stroke-linejoin="round"/>
<path d="M1052.6 1902.2C1053 1899.9 1054.2 1886 1055.5 1887C1056.8 1888 1060.3 1905.6 1061.2 1908.9" fill="none" stroke="#1c1c1c" stroke-width="6.9" stroke-linecap="butt" stroke-linejoin="round"/>
<polyline points="1062.8,1931 1065.1,1965.7" fill="none" stroke="#1c1c1c" stroke-width="6.9" stroke-linecap="butt" stroke-linejoin="round"/>
<polyline points="1067,1986.8 1068.9,2022.4" fill="none" stroke="#1c1c1c" stroke-width="6.9" stroke-linecap="butt" stroke-linejoin="round"/>
<polyline points="1070.7,2043.8 1073.6,2079.4" fill="none" stroke="#1c1c1c" stroke-width="6.9" stroke-linecap="butt" stroke-linejoin="round"/>
<polyline points="1075.5,2100.6 1079.4,2134.3" fill="none" stroke="#1c1c1c" stroke-width="6.9" stroke-linecap="butt" stroke-linejoin="round"/>
<polyline points="1085.1,2160.3 1093.8,2127.6" fill="none" stroke="#1c1c1c" stroke-width="6.9" stroke-linecap="butt" stroke-linejoin="round"/>
<path d="M1103.4 2151.6C1105.6 2151.6 1114 2154 1117.9 2151.6C1121.8 2149.2 1127.7 2137.7 1129.4 2135.3" fill="none" stroke="#1c1c1c" stroke-width="6.9" stroke-linecap="butt" stroke-linejoin="round"/>
<polyline points="1146.7,2121.3 1172.7,2103" fill="none" stroke="#1c1c1c" stroke-width="6.9" stroke-linecap="butt" stroke-linejoin="round"/>
<path d="M1189.1 2119.3C1190 2116.7 1193.5 2106.9 1194.8 2102C1196.1 2097.1 1197.3 2088.9 1197.7 2086.6" fill="none" stroke="#1c1c1c" stroke-width="6.9" stroke-linecap="butt" stroke-linejoin="round"/>
<polyline points="1201.6,2064.5 1206.4,2029.9" fill="none" stroke="#1c1c1c" stroke-width="6.9" stroke-linecap="butt" stroke-linejoin="round"/>
<polyline points="1210.2,2007.7 1214.1,1974.1" fill="none" stroke="#1c1c1c" stroke-width="6.9" stroke-linecap="butt" stroke-linejoin="round"/>
<polyline points="1218.7,1951.7 1220.6,1918" fill="none" stroke="#1c1c1c" stroke-width="6.9" stroke-linecap="butt" stroke-linejoin="round"/>
<polyline points="1222.5,1895.9 1224.5,1861.2" fill="none" stroke="#1c1c1c" stroke-width="6.9" stroke-linecap="butt" stroke-linejoin="round"/>
<polyline points="1225.4,1839.1 1228.3,1804.5" fill="none" stroke="#1c1c1c" stroke-width="6.9" stroke-linecap="butt" stroke-linejoin="round"/>
<polyline points="1229.3,1782.3 1232.2,1747.7" fill="none" stroke="#1c1c1c" stroke-width="6.9" stroke-linecap="butt" stroke-linejoin="round"/>
<polyline points="1232.7,1725.5 1238.5,1691.8" fill="none" stroke="#1c1c1c" stroke-width="6.9" stroke-linecap="butt" stroke-linejoin="round"/>
<polyline points="1239.4,1669.7 1248.1,1635" fill="none" stroke="#1c1c1c" stroke-width="6.9" stroke-linecap="butt" stroke-linejoin="round"/>
<path d="M1247.1 1610C1248.7 1610.7 1255.2 1617.1 1257.7 1614.8C1260.2 1612.5 1261.8 1598.9 1263.5 1594.6C1265.2 1590.3 1267.3 1582.4 1269.3 1586C1271.3 1589.6 1275.8 1613.8 1277 1618.7" fill="none" stroke="#1c1c1c" stroke-width="6.9" stroke-linecap="butt" stroke-linejoin="round"/>
<polyline points="1277,1640.8 1283.7,1676.4" fill="none" stroke="#1c1c1c" stroke-width="6.9" stroke-linecap="butt" stroke-linejoin="round"/>
<polyline points="1284.7,1697.6 1290.4,1733.2" fill="none" stroke="#1c1c1c" stroke-width="6.9" stroke-linecap="butt" stroke-linejoin="round"/>
<polyline points="1292.4,1752.4 1300,1787" fill="none" stroke="#1c1c1c" stroke-width="6.9" stroke-linecap="butt" stroke-linejoin="round"/>
<polyline points="1304.3,1809.3 1309.1,1843.9" fill="none" stroke="#1c1c1c" stroke-width="6.9" stroke-linecap="butt" stroke-linejoin="round"/>
<path d="M1311.1 1866C1311.8 1868.5 1314 1878.5 1315.9 1882.4C1317.8 1886.3 1322.4 1890.6 1323.6 1892" fill="none" stroke="#1c1c1c" stroke-width="6.9" stroke-linecap="butt" stroke-linejoin="round"/>
<path d="M1330.3 1904.5C1331 1908.1 1333.7 1927 1335.1 1928.6C1336.5 1930.2 1339.2 1917.1 1339.9 1915.1" fill="none" stroke="#1c1c1c" stroke-width="6.9" stroke-linecap="butt" stroke-linejoin="round"/>
<polyline points="1339.9,1893.9 1341.8,1859.3" fill="none" stroke="#1c1c1c" stroke-width="6.9" stroke-linecap="butt" stroke-linejoin="round"/>
<polyline points="1341.8,1837.2 1342.8,1801.6" fill="none" stroke="#1c1c1c" stroke-width="6.9" stroke-linecap="butt" stroke-linejoin="round"/>
<polyline points="1342.4,1779.4 1342.4,1745.7" fill="none" stroke="#1c1c1c" stroke-width="6.9" stroke-linecap="butt" stroke-linejoin="round"/>
<polyline points="1342.4,1723.6 1343.4,1688.9" fill="none" stroke="#1c1c1c" stroke-width="6.9" stroke-linecap="butt" stroke-linejoin="round"/>
<polyline points="1344.3,1665.8 1345.3,1632.2" fill="none" stroke="#1c1c1c" stroke-width="6.9" stroke-linecap="butt" stroke-linejoin="round"/>
<polyline points="1345.3,1610 1345.3,1575.4" fill="none" stroke="#1c1c1c" stroke-width="6.9" stroke-linecap="butt" stroke-linejoin="round"/>
<polyline points="1345.4,1552.4 1347,1518.5" fill="none" stroke="#1c1c1c" stroke-width="6.9" stroke-linecap="butt" stroke-linejoin="round"/>
<polyline points="1349.6,1496.5 1350.2,1460.5" fill="none" stroke="#1c1c1c" stroke-width="8.6" stroke-linecap="butt" stroke-linejoin="round"/>
<polyline points="1350.6,1439 1351.4,1404" fill="none" stroke="#1c1c1c" stroke-width="8.6" stroke-linecap="butt" stroke-linejoin="round"/>
<polyline points="1353.6,1382.4 1354.8,1337.2" fill="none" stroke="#1c1c1c" stroke-width="8.6" stroke-linecap="butt" stroke-linejoin="round"/>
<polyline points="1354,1325.9 1354.2,1301.8" fill="none" stroke="#1c1c1c" stroke-width="8.6" stroke-linecap="butt" stroke-linejoin="round"/>
<polyline points="1358,1404 1358.2,1439" fill="none" stroke="#1c1c1c" stroke-width="6.9" stroke-linecap="butt" stroke-linejoin="round"/>
<polyline points="1358.3,1451 1358.3,1487" fill="none" stroke="#1c1c1c" stroke-width="6.9" stroke-linecap="butt" stroke-linejoin="round"/>
<polyline points="1357.8,1509.3 1357.8,1543.2" fill="none" stroke="#1c1c1c" stroke-width="6.9" stroke-linecap="butt" stroke-linejoin="round"/>
<polyline points="1358.8,1565.8 1358.8,1599.4" fill="none" stroke="#1c1c1c" stroke-width="6.9" stroke-linecap="butt" stroke-linejoin="round"/>
<polyline points="1359.7,1622.5 1360.7,1656.2" fill="none" stroke="#1c1c1c" stroke-width="6.9" stroke-linecap="butt" stroke-linejoin="round"/>
<polyline points="1361.6,1678.3 1362.6,1713.9" fill="none" stroke="#1c1c1c" stroke-width="6.9" stroke-linecap="butt" stroke-linejoin="round"/>
<polyline points="1362.6,1735.1 1364.5,1769.7" fill="none" stroke="#1c1c1c" stroke-width="6.9" stroke-linecap="butt" stroke-linejoin="round"/>
<polyline points="1364,1768.9 1366.9,1740" fill="none" stroke="#1c1c1c" stroke-width="6.9" stroke-linecap="butt" stroke-linejoin="round"/>
<polyline points="1377,1712 1381.8,1744.7" fill="none" stroke="#1c1c1c" stroke-width="6.9" stroke-linecap="butt" stroke-linejoin="round"/>
<polyline points="1386.7,1762 1390.5,1729.3" fill="none" stroke="#1c1c1c" stroke-width="6.9" stroke-linecap="butt" stroke-linejoin="round"/>
<polyline points="1390.5,1706.2 1390.5,1672.6" fill="none" stroke="#1c1c1c" stroke-width="6.9" stroke-linecap="butt" stroke-linejoin="round"/>
<polyline points="1393.4,1649.5 1398.2,1615.8" fill="none" stroke="#1c1c1c" stroke-width="6.9" stroke-linecap="butt" stroke-linejoin="round"/>
<polyline points="1400.1,1593.7 1404,1560" fill="none" stroke="#1c1c1c" stroke-width="6.9" stroke-linecap="butt" stroke-linejoin="round"/>
<polyline points="1407,1553.9 1410.1,1504.7" fill="none" stroke="#1c1c1c" stroke-width="6.9" stroke-linecap="butt" stroke-linejoin="round"/>
<polyline points="1412.6,1577.3 1413.6,1611" fill="none" stroke="#1c1c1c" stroke-width="6.9" stroke-linecap="butt" stroke-linejoin="round"/>
<polyline points="1414.6,1634.1 1417.4,1668.7" fill="none" stroke="#1c1c1c" stroke-width="6.9" stroke-linecap="butt" stroke-linejoin="round"/>
<polyline points="1419.4,1560 1426.1,1583.1" fill="none" stroke="#1c1c1c" stroke-width="6.9" stroke-linecap="butt" stroke-linejoin="round"/>
<path d="M1427.1 1673.5C1426.9 1676.7 1427.3 1691.8 1426.1 1694.7C1424.9 1697.6 1420.4 1693.1 1419.4 1692.8" fill="none" stroke="#1c1c1c" stroke-width="6.9" stroke-linecap="butt" stroke-linejoin="round"/>
<polyline points="1387.1,1763.1 1390.9,1740" fill="none" stroke="#1c1c1c" stroke-width="6.9" stroke-linecap="butt" stroke-linejoin="round"/>
<polyline points="1434.5,1658.5 1437,1661.5" fill="none" stroke="#1c1c1c" stroke-width="6.9" stroke-linecap="butt" stroke-linejoin="round"/>
<polyline points="1284.7,1739 1290,1720 1299.1,1673.5 1305.8,1737 1313.5,1695.7 1320.3,1719.7 1326,1743.8 1334.7,1697.6 1340.5,1702.4 1346.2,1685.1" fill="none" stroke="#1c1c1c" stroke-width="6.0" stroke-linecap="butt" stroke-linejoin="miter"/>
<polyline points="1278.9,1785 1284.7,1742 1292.4,1752.4 1300,1787" fill="none" stroke="#1c1c1c" stroke-width="5.8" stroke-linecap="butt" stroke-linejoin="miter"/>
<polyline points="1392.5,1536 1394.7,1518.5 1398.6,1537 1402.4,1553.9 1406.3,1512.4 1410.1,1485.4 1414.7,1512.4 1417.8,1543.2" fill="none" stroke="#1c1c1c" stroke-width="5.6" stroke-linecap="butt" stroke-linejoin="miter"/>
</g>
</svg>
</body></html>
